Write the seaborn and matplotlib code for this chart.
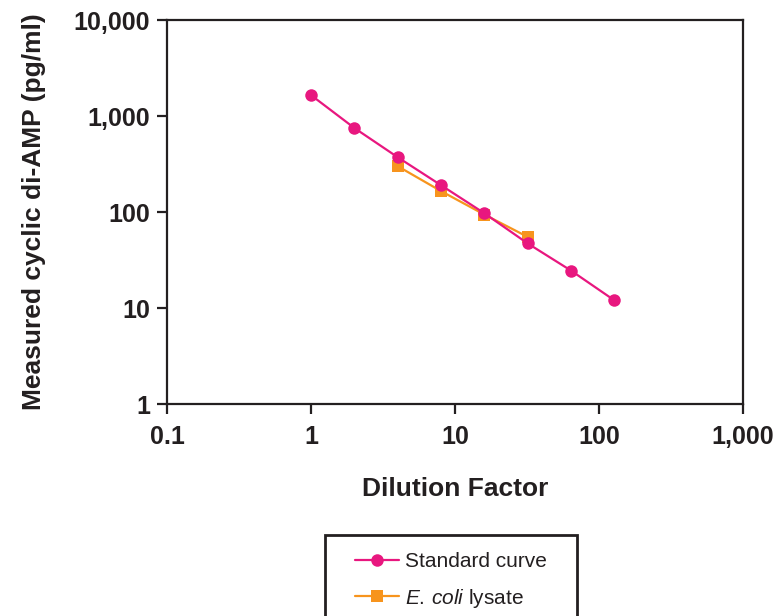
import matplotlib
matplotlib.use("Agg")
import matplotlib.pyplot as plt
import matplotlib.ticker as mticker
from matplotlib.patches import Rectangle
import pandas as pd
import seaborn as sns

# data
dilution_std = [1, 2, 4, 8, 16, 32, 64, 128]
conc_std = [1650, 750, 372, 190, 97, 47, 24.5, 12]
dilution_ecoli = [4, 8, 16, 32]
conc_ecoli = [300, 165, 94, 55]

lbl_std = "Standard curve"
lbl_ecoli = r"$\mathit{E.\,coli}$ lysate"

x_ticks = [0.1, 1, 10, 100, 1000]
y_ticks = [1, 10, 100, 1000, 10000]

df = pd.concat([
    pd.DataFrame({"dilution": dilution_std, "conc": conc_std, "series": lbl_std}),
    pd.DataFrame({"dilution": dilution_ecoli, "conc": conc_ecoli, "series": lbl_ecoli}),
], ignore_index=True)

sns.set_style("ticks")
plt.rcParams["font.family"] = ["Liberation Sans", "DejaVu Sans"]
plt.rcParams["mathtext.fontset"] = "custom"
plt.rcParams["mathtext.it"] = "Liberation Sans:italic"
plt.rcParams["mathtext.rm"] = "Liberation Sans"

pink = "#E8177F"
orange = "#F7941D"
ink = "#231F20"

fig = plt.figure(figsize=(7.79, 6.16), dpi=100)
ax = fig.add_axes([167 / 779, 1 - 404 / 616, 576 / 779, 384 / 616])

sns.lineplot(data=df, x="dilution", y="conc", hue="series", style="series",
             palette={lbl_std: pink, lbl_ecoli: orange},
             markers={lbl_std: "o", lbl_ecoli: "s"}, dashes=False,
             hue_order=[lbl_ecoli, lbl_std], style_order=[lbl_ecoli, lbl_std],
             linewidth=1.6, markersize=9, markeredgewidth=0, ax=ax)

ax.set_xscale("log")
ax.set_yscale("log")
ax.set_xlim(0.1, 1000)
ax.set_ylim(1, 10000)
ax.set_xticks(x_ticks)
ax.set_yticks(y_ticks)
ax.xaxis.set_minor_locator(mticker.NullLocator())
ax.yaxis.set_minor_locator(mticker.NullLocator())
fmt = mticker.FuncFormatter(lambda v, p: format(v, ",g"))
ax.xaxis.set_major_formatter(fmt)
ax.yaxis.set_major_formatter(fmt)

for s in ax.spines.values():
    s.set_visible(True)
    s.set_linewidth(1.6)
    s.set_color(ink)
ax.tick_params(direction="out", length=7, width=1.6, color=ink,
               labelsize=18, labelcolor=ink, pad=5)
ax.tick_params(axis="x", pad=8)
for t in ax.get_xticklabels() + ax.get_yticklabels():
    t.set_fontweight("bold")

ax.set_xlabel("Dilution Factor", fontsize=19, fontweight="bold", color=ink, labelpad=20)
ax.set_ylabel("Measured cyclic di-AMP (pg/ml)", fontsize=19, fontweight="bold", color=ink, labelpad=20)

handles, labels = ax.get_legend_handles_labels()
order = [labels.index(lbl_std), labels.index(lbl_ecoli)]
ax.get_legend().remove()
leg = fig.legend([handles[i] for i in order], [labels[i] for i in order],
                 loc="upper left", bbox_to_anchor=(355 / 779, 1 - 552 / 616),
                 borderaxespad=0, borderpad=0, fontsize=15, frameon=False,
                 labelspacing=0.75, handlelength=2.1, handletextpad=0.3)
for t in leg.get_texts():
    t.set_color(ink)

# legend box, open at the bottom edge of the figure like the reference
fig.patches.append(Rectangle((325 / 779, -0.05), 252 / 779, 0.05 + 81 / 616,
                             transform=fig.transFigure, fill=False,
                             edgecolor=ink, linewidth=2))

fig.savefig("out.png", dpi=100)
